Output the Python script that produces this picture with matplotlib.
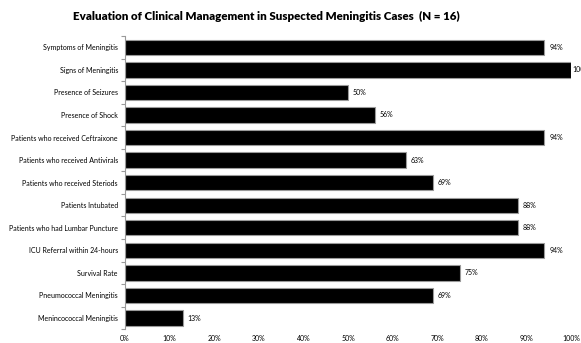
import numpy as np
import matplotlib.pyplot as plt
from matplotlib.ticker import PercentFormatter, FixedLocator

categories = [
    'Symptoms of Meningitis',
    'Signs of Meningitis',
    'Presence of Seizures',
    'Presence of Shock',
    'Patients who received Ceftraixone',
    'Patients who received Antivirals',
    'Patients who received Steriods',
    'Patients Intubated',
    'Patients who had Lumbar Puncture',
    'ICU Referral within 24-hours',
    'Survival Rate',
    'Pneumococcal Meningitis',
    'Menincococcal Meningitis',
]
values = [94, 100, 50, 56, 94, 63, 69, 88, 88, 94, 75, 69, 13]

plt.rcParams['font.family'] = ['Lato', 'DejaVu Sans']

fig = plt.figure(figsize=(5.81, 3.43), dpi=100)
ax = fig.add_axes([0.215, 0.04, 0.768, 0.855])

y = np.arange(len(categories))
ax.barh(y, values, height=0.68, color='black', edgecolor='#9a9a9a', linewidth=0.8)
for yi, v in zip(y, values):
    # full bar leaves no room, label gets pushed against the edge
    dx = 0.3 if v >= 100 else 1.1
    ax.text(v + dx, yi, f'{v}%', va='center', ha='left', fontsize=5, clip_on=False)

ax.set_xlim(0, 100)
ax.set_ylim(len(categories) - 0.5, -0.5)
ax.set_yticks(y)
ax.set_yticklabels(categories, fontsize=5)
ax.yaxis.set_minor_locator(FixedLocator(np.arange(-0.5, len(categories), 1)))
ax.tick_params(axis='y', which='major', length=0, pad=5)
ax.tick_params(axis='y', which='minor', length=3, color='#9a9a9a', width=0.8)
ax.set_xticks(np.arange(0, 101, 10))
ax.xaxis.set_major_formatter(PercentFormatter(decimals=0))
ax.tick_params(axis='x', length=0, labelsize=5, pad=4)

for s in ['top', 'right', 'bottom']:
    ax.spines[s].set_visible(False)
ax.spines['left'].set_color('#9a9a9a')
ax.spines['left'].set_linewidth(0.8)

fig.text(0.458, 0.952, 'Evaluation of Clinical Management in Suspected Meningitis Cases  (N = 16)',
         ha='center', va='center', fontsize=8.3, fontweight='heavy')

fig.savefig('out.png', dpi=100)
